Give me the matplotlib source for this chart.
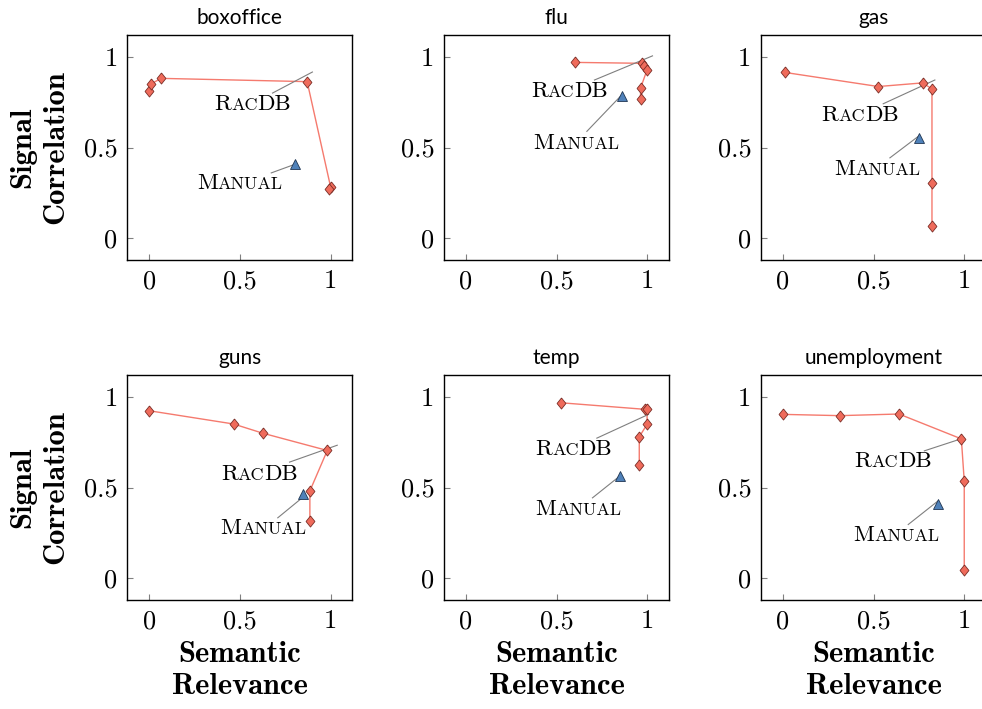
import matplotlib
matplotlib.use("Agg")
import matplotlib.pyplot as plt
from matplotlib.offsetbox import TextArea, HPacker, AnnotationBbox

plt.rcParams['axes.formatter.use_mathtext'] = True

datasets = ['boxoffice', 'flu', 'gas', 'guns', 'temp', 'unemployment']

# RacDB frontier per dataset (semantic relevance, signal correlation)
racdb_x = [
    [0.000, 0.007, 0.066, 0.871, 1.000, 0.990],
    [0.603, 0.971, 0.983, 0.998, 0.963, 0.963],
    [0.009, 0.526, 0.770, 0.822, 0.822, 0.822],
    [0.000, 0.465, 0.627, 0.982, 0.886, 0.886],
    [0.524, 0.985, 0.998, 1.000, 0.956, 0.956],
    [0.000, 0.313, 0.640, 0.984, 1.000, 1.000],
]
racdb_y = [
    [0.813, 0.849, 0.881, 0.863, 0.284, 0.269],
    [0.969, 0.964, 0.951, 0.925, 0.827, 0.770],
    [0.914, 0.836, 0.856, 0.823, 0.303, 0.070],
    [0.923, 0.850, 0.799, 0.704, 0.481, 0.314],
    [0.967, 0.931, 0.933, 0.850, 0.779, 0.625],
    [0.903, 0.896, 0.905, 0.768, 0.536, 0.048],
]

# manually built pipeline
manual_x = [0.805, 0.862, 0.748, 0.846, 0.847, 0.857]
manual_y = [0.408, 0.784, 0.552, 0.462, 0.565, 0.410]

ticks = [0, 0.5, 1]
tick_labels = ['0', '0.5', '1']

# label placement: (label centre, pin start, pin end)
racdb_pins = [
    ((0.57, 0.74), (0.68, 0.80), (0.90, 0.916)),
    ((0.571, 0.808), (0.709, 0.872), (1.029, 1.005)),
    ((0.425, 0.68), (0.553, 0.741), (0.838, 0.872)),
    ((0.608, 0.574), (0.774, 0.640), (1.037, 0.733)),
    ((0.594, 0.711), (0.722, 0.772), (1.007, 0.903)),
    ((0.608, 0.643), (0.78, 0.702), (0.982, 0.768)),
]
manual_pins = [
    ((0.50, 0.305), (0.673, 0.36), (0.805, 0.408)),
    ((0.608, 0.525), (0.667, 0.589), (0.851, 0.781)),
    ((0.522, 0.378), (0.59, 0.443), (0.746, 0.561)),
    ((0.63, 0.273), (0.709, 0.333), (0.853, 0.451)),
    ((0.621, 0.382), (0.698, 0.443), (0.842, 0.558)),
    ((0.627, 0.238), (0.691, 0.296), (0.853, 0.424)),
]

DIAMOND = [(0, 1), (0.8, 0), (0, -1), (-0.8, 0), (0, 1)]


def smallcaps(parts, big=16.5, small=13):
    boxes = []
    for txt, is_big in parts:
        boxes.append(TextArea(txt, textprops=dict(family='cmr10', color='black',
                                                  size=big if is_big else small)))
    return HPacker(children=boxes, align='baseline', pad=0, sep=0)


def pin_label(ax, parts, pin):
    centre, p0, p1 = pin
    ax.plot([p0[0], p1[0]], [p0[1], p1[1]], c='#7f7f7f', lw=0.8, zorder=3)
    ab = AnnotationBbox(smallcaps(parts), centre, xycoords='data',
                        box_alignment=(0.5, 0.5), frameon=False, pad=0, zorder=5)
    ax.add_artist(ab)


fig = plt.figure(figsize=(9.82, 7.09), dpi=100)
W, H = 982, 709
lefts = [127.3, 444.0, 761.0]
tops = [35.0, 375.0]
size = 225.0

for i, name in enumerate(datasets):
    r, c = divmod(i, 3)
    ax = fig.add_axes([lefts[c] / W, (H - tops[r] - size) / H, size / W, size / H])
    ax.set_xlim(-0.121, 1.12)
    ax.set_ylim(-0.12, 1.12)

    ax.plot(racdb_x[i], racdb_y[i], c='#f57a6e', lw=1.0, zorder=2)
    ax.plot(racdb_x[i], racdb_y[i], ls='none', marker=DIAMOND, ms=8,
            mfc='#ef6b5b', mec='#7a2e27', mew=0.6, zorder=4)
    ax.plot(manual_x[i], manual_y[i], ls='none', marker='^', ms=6.5,
            mfc='#4f81b9', mec='#1f3552', mew=0.6, zorder=4)

    pin_label(ax, [('R', True), ('AC', False), ('DB', True)], racdb_pins[i])
    pin_label(ax, [('M', True), ('ANUAL', False)], manual_pins[i])

    ax.set_xticks(ticks)
    ax.set_yticks(ticks)
    ax.set_xticklabels(tick_labels, family='cmr10', size=19)
    ax.set_yticklabels(tick_labels, family='cmr10', size=19)
    ax.tick_params(direction='in', length=4, width=0.8, color='#808080', pad=7)
    for sp in ax.spines.values():
        sp.set_linewidth(1.0)

    ax.set_title(name, family='Lato', size=15, pad=8)

    if c == 0:
        ax.set_ylabel('Signal\nCorrelation', family='cmb10', size=22, linespacing=1.25)
        ax.yaxis.set_label_coords(-0.26, 0.5)
    if r == 1:
        ax.set_xlabel('Semantic\nRelevance', family='cmb10', size=22, linespacing=1.25)
        ax.xaxis.set_label_coords(0.5, -0.18)

fig.savefig('out.png', dpi=100)
